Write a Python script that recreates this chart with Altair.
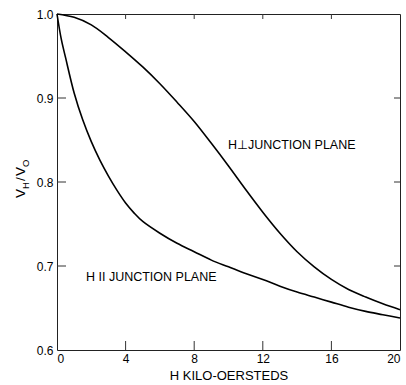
import altair as alt
import pandas as pd

# ---- data ----
h_perp = [0, 1, 2, 3, 4, 5, 6, 7, 8, 9, 10, 11, 12, 13, 14, 15, 16, 17, 18, 19, 20]
v_perp = [1.0, 0.996, 0.987, 0.972, 0.955, 0.937, 0.917, 0.895, 0.872, 0.846, 0.819,
          0.791, 0.764, 0.739, 0.717, 0.699, 0.684, 0.672, 0.663, 0.655, 0.648]

h_par = [0, 0.25, 0.5, 1, 1.5, 2, 2.5, 3, 3.5, 4, 4.5, 5, 6, 7, 8, 9, 10, 11, 12, 13, 14, 15, 16, 17, 18, 19, 20]
v_par = [1.0, 0.970, 0.948, 0.906, 0.874, 0.848, 0.826, 0.807, 0.790, 0.775, 0.763, 0.753,
         0.739, 0.727, 0.717, 0.707, 0.699, 0.691, 0.684, 0.676, 0.669, 0.663, 0.657,
         0.651, 0.646, 0.642, 0.638]

x_tick_labels = [0, 4, 8, 12, 16, 20]
y_tick_labels = [0.6, 0.7, 0.8, 0.9, 1.0]
x_inner_ticks = [4, 8, 12, 16]
y_inner_ticks = [0.7, 0.8, 0.9]

label_text = ["H\u22a5JUNCTION PLANE", "H II JUNCTION PLANE"]
label_h = [9.97, 1.69]
label_v = [0.844, 0.687]

x_title = "H KILO-OERSTEDS"

W, H = 343, 336
FONT = "Liberation Sans, DejaVu Sans, sans-serif"

df = pd.concat([
    pd.DataFrame({"h": h_perp, "v": v_perp, "series": "perp"}),
    pd.DataFrame({"h": h_par, "v": v_par, "series": "par"}),
])

xenc = alt.X("h:Q", scale=alt.Scale(domain=[0, 20], nice=False, zero=False),
             axis=alt.Axis(values=x_tick_labels, format="d", ticks=False, domain=False, grid=False,
                           labelFontSize=12, labelPadding=3, labelColor="black", labelFont=FONT,
                           title=x_title, titleFontSize=13, titleFont=FONT, titleFontWeight="normal",
                           titlePadding=5, titleColor="black"))
yenc = alt.Y("v:Q", scale=alt.Scale(domain=[0.6, 1.0], nice=False, zero=False),
             axis=alt.Axis(values=y_tick_labels, format=".1f", ticks=False, domain=False, grid=False,
                           labelFontSize=12, labelPadding=4, labelColor="black", labelFont=FONT,
                           title=None))

lines = alt.Chart(df).mark_line(color="black", strokeWidth=1.6, interpolate="catmull-rom").encode(
    x=xenc, y=yenc, detail="series:N")

ydf = pd.DataFrame({"v": y_inner_ticks})
xdf = pd.DataFrame({"h": x_inner_ticks})

left_ticks = alt.Chart(ydf).mark_rule(color="#333", strokeWidth=1).encode(
    y=yenc, x=alt.value(0), x2=alt.value(9))
right_ticks = alt.Chart(ydf).mark_rule(color="#333", strokeWidth=1).encode(
    y=yenc, x=alt.value(W - 6), x2=alt.value(W))
bottom_ticks = alt.Chart(xdf).mark_rule(color="#333", strokeWidth=1).encode(
    x=xenc, y=alt.value(H), y2=alt.value(H - 9))
top_ticks = alt.Chart(xdf).mark_rule(color="#333", strokeWidth=1).encode(
    x=xenc, y=alt.value(0), y2=alt.value(5))

labels = alt.Chart(pd.DataFrame({"h": label_h, "v": label_v, "t": label_text})).mark_text(
    align="left", baseline="middle", fontSize=12.5, font=FONT, color="black").encode(
    x=xenc, y=yenc, text="t:N")

# y-axis title V_H / V_O composed of rotated pieces
def piece(txt, xv, yv, size):
    return alt.Chart(pd.DataFrame({"t": [txt]})).mark_text(
        align="left", baseline="alphabetic", angle=270, fontSize=size, font=FONT, color="black").encode(
        text="t:N", x=alt.value(xv), y=alt.value(yv))

ytitle = (piece("V", -32, 184, 13.5) + piece("H", -28.5, 175, 9.5) + piece("/", -32, 167, 13.5)
          + piece("V", -32, 162, 13.5) + piece("O", -28.5, 153, 9.5))

chart = alt.layer(lines, left_ticks, right_ticks, bottom_ticks, top_ticks, labels, ytitle).properties(
    width=W, height=H,
    autosize=alt.AutoSizeParams(type="none"),
    padding={"left": 57, "top": 14, "right": 6, "bottom": 35},
    background="white",
).configure_view(stroke="#222", strokeWidth=1)

chart.save("out.html", embed_options={"renderer": "svg", "actions": False})
